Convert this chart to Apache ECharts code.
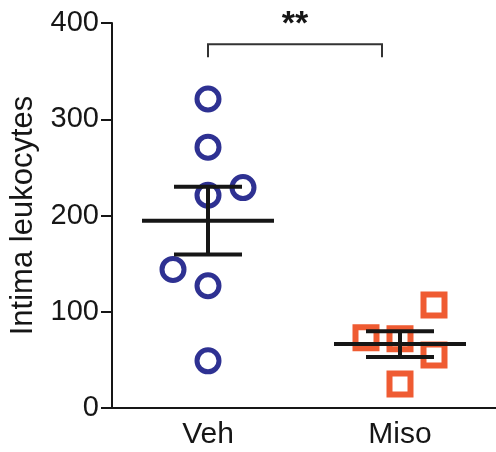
<!DOCTYPE html>
<html>
<head>
<meta charset="utf-8">
<script src="https://cdn.jsdelivr.net/npm/echarts@6/dist/echarts.min.js"></script>
<style>
  html, body { margin: 0; padding: 0; background: #fff; }
  #chart { width: 496px; height: 452px; }
</style>
</head>
<body>
<div id="chart"></div>
<script>
const categories = ['Veh', 'Miso']
const vehValues = [321, 271, 221, 229, 144, 127, 49]
const misoValues = [107, 73, 72, 55, 25]
// horizontal jitter (px) so overlapping points stay visible
const vehJitter = [0, 0, 0, 35, -35, 0, 0]
const misoJitter = [34, -34, 0, 34, 0]
const yTicks = [0, 100, 200, 300, 400]
const sigLevel = 378
const sigText = '**'

const meanSem = (arr) => {
  const n = arr.length
  const m = arr.reduce((a, b) => a + b, 0) / n
  const sd = Math.sqrt(arr.reduce((a, b) => a + (b - m) * (b - m), 0) / (n - 1))
  return [m, sd / Math.sqrt(n)]
}

const toPoints = (values, jitter, idx) =>
  values.map((v, i) => ({ value: [idx, v], symbolOffset: [jitter[i], 0] }))

const errData = [vehValues, misoValues].map((arr, i) => {
  const [m, s] = meanSem(arr)
  return [i, m, m - s, m + s]
})

const ink = '#161616'

const chart = echarts.init(document.getElementById('chart'))
chart.setOption({
  backgroundColor: '#fff',
  animation: false,
  grid: { left: 112, right: 0, top: 23, bottom: 44, outerBoundsMode: 'none' },
  xAxis: {
    type: 'category',
    data: categories,
    axisLine: { lineStyle: { color: ink, width: 2 } },
    axisTick: { alignWithLabel: true, length: 10, lineStyle: { color: ink, width: 2 } },
    axisLabel: { fontSize: 30, color: ink, fontFamily: 'Liberation Sans', margin: 12 }
  },
  yAxis: {
    type: 'value',
    min: yTicks[0],
    max: yTicks[yTicks.length - 1],
    interval: 100,
    splitLine: { show: false },
    axisLine: { show: true, lineStyle: { color: ink, width: 2 } },
    axisTick: { show: true, length: 11, lineStyle: { color: ink, width: 2 } },
    axisLabel: { fontSize: 29, color: ink, fontFamily: 'Liberation Sans', margin: 13 },
    name: 'Intima leukocytes',
    nameLocation: 'middle',
    nameGap: 73,
    nameTextStyle: { fontSize: 31, color: ink, fontFamily: 'Liberation Sans' }
  },
  series: [
    {
      type: 'scatter',
      symbol: 'circle',
      symbolSize: 22,
      itemStyle: { color: 'rgba(255,255,255,0)', borderColor: '#2e3192', borderWidth: 5, opacity: 1 },
      data: toPoints(vehValues, vehJitter, 0),
      z: 2
    },
    {
      type: 'scatter',
      symbol: 'rect',
      symbolSize: 21,
      itemStyle: { color: 'rgba(255,255,255,0)', borderColor: '#ef5b32', borderWidth: 6, opacity: 1 },
      data: toPoints(misoValues, misoJitter, 1),
      z: 2
    },
    {
      // mean ± SEM
      type: 'custom',
      z: 5,
      data: errData,
      encode: { x: 0, y: [1, 2, 3] },
      renderItem: (params, api) => {
        const mid = api.coord([api.value(0), api.value(1)])
        const lo = api.coord([api.value(0), api.value(2)])
        const hi = api.coord([api.value(0), api.value(3)])
        const st = { stroke: ink, lineWidth: 4 }
        return {
          type: 'group',
          children: [
            { type: 'line', shape: { x1: mid[0] - 66, y1: mid[1], x2: mid[0] + 66, y2: mid[1] }, style: st },
            { type: 'line', shape: { x1: mid[0], y1: lo[1], x2: mid[0], y2: hi[1] }, style: st },
            { type: 'line', shape: { x1: mid[0] - 34, y1: lo[1], x2: mid[0] + 34, y2: lo[1] }, style: st },
            { type: 'line', shape: { x1: mid[0] - 34, y1: hi[1], x2: mid[0] + 34, y2: hi[1] }, style: st }
          ]
        }
      }
    },
    {
      // significance bracket
      type: 'custom',
      clip: false,
      silent: true,
      data: [[0, sigLevel]],
      renderItem: (params, api) => {
        const a = api.coord([0, sigLevel])
        const b = api.coord([1, sigLevel])
        const x2 = b[0] - 18
        const st = { stroke: '#333', lineWidth: 2, fill: null }
        return {
          type: 'group',
          children: [
            { type: 'polyline', shape: { points: [[a[0], a[1] + 13], [a[0], a[1]], [x2, a[1]], [x2, a[1] + 13]] }, style: st },
            {
              type: 'text',
              style: {
                text: sigText, x: (a[0] + x2) / 2, y: a[1] - 3,
                align: 'center', verticalAlign: 'bottom',
                font: 'bold 34px Liberation Sans', fill: ink
              }
            }
          ]
        }
      }
    }
  ]
})
</script>
</body>
</html>
